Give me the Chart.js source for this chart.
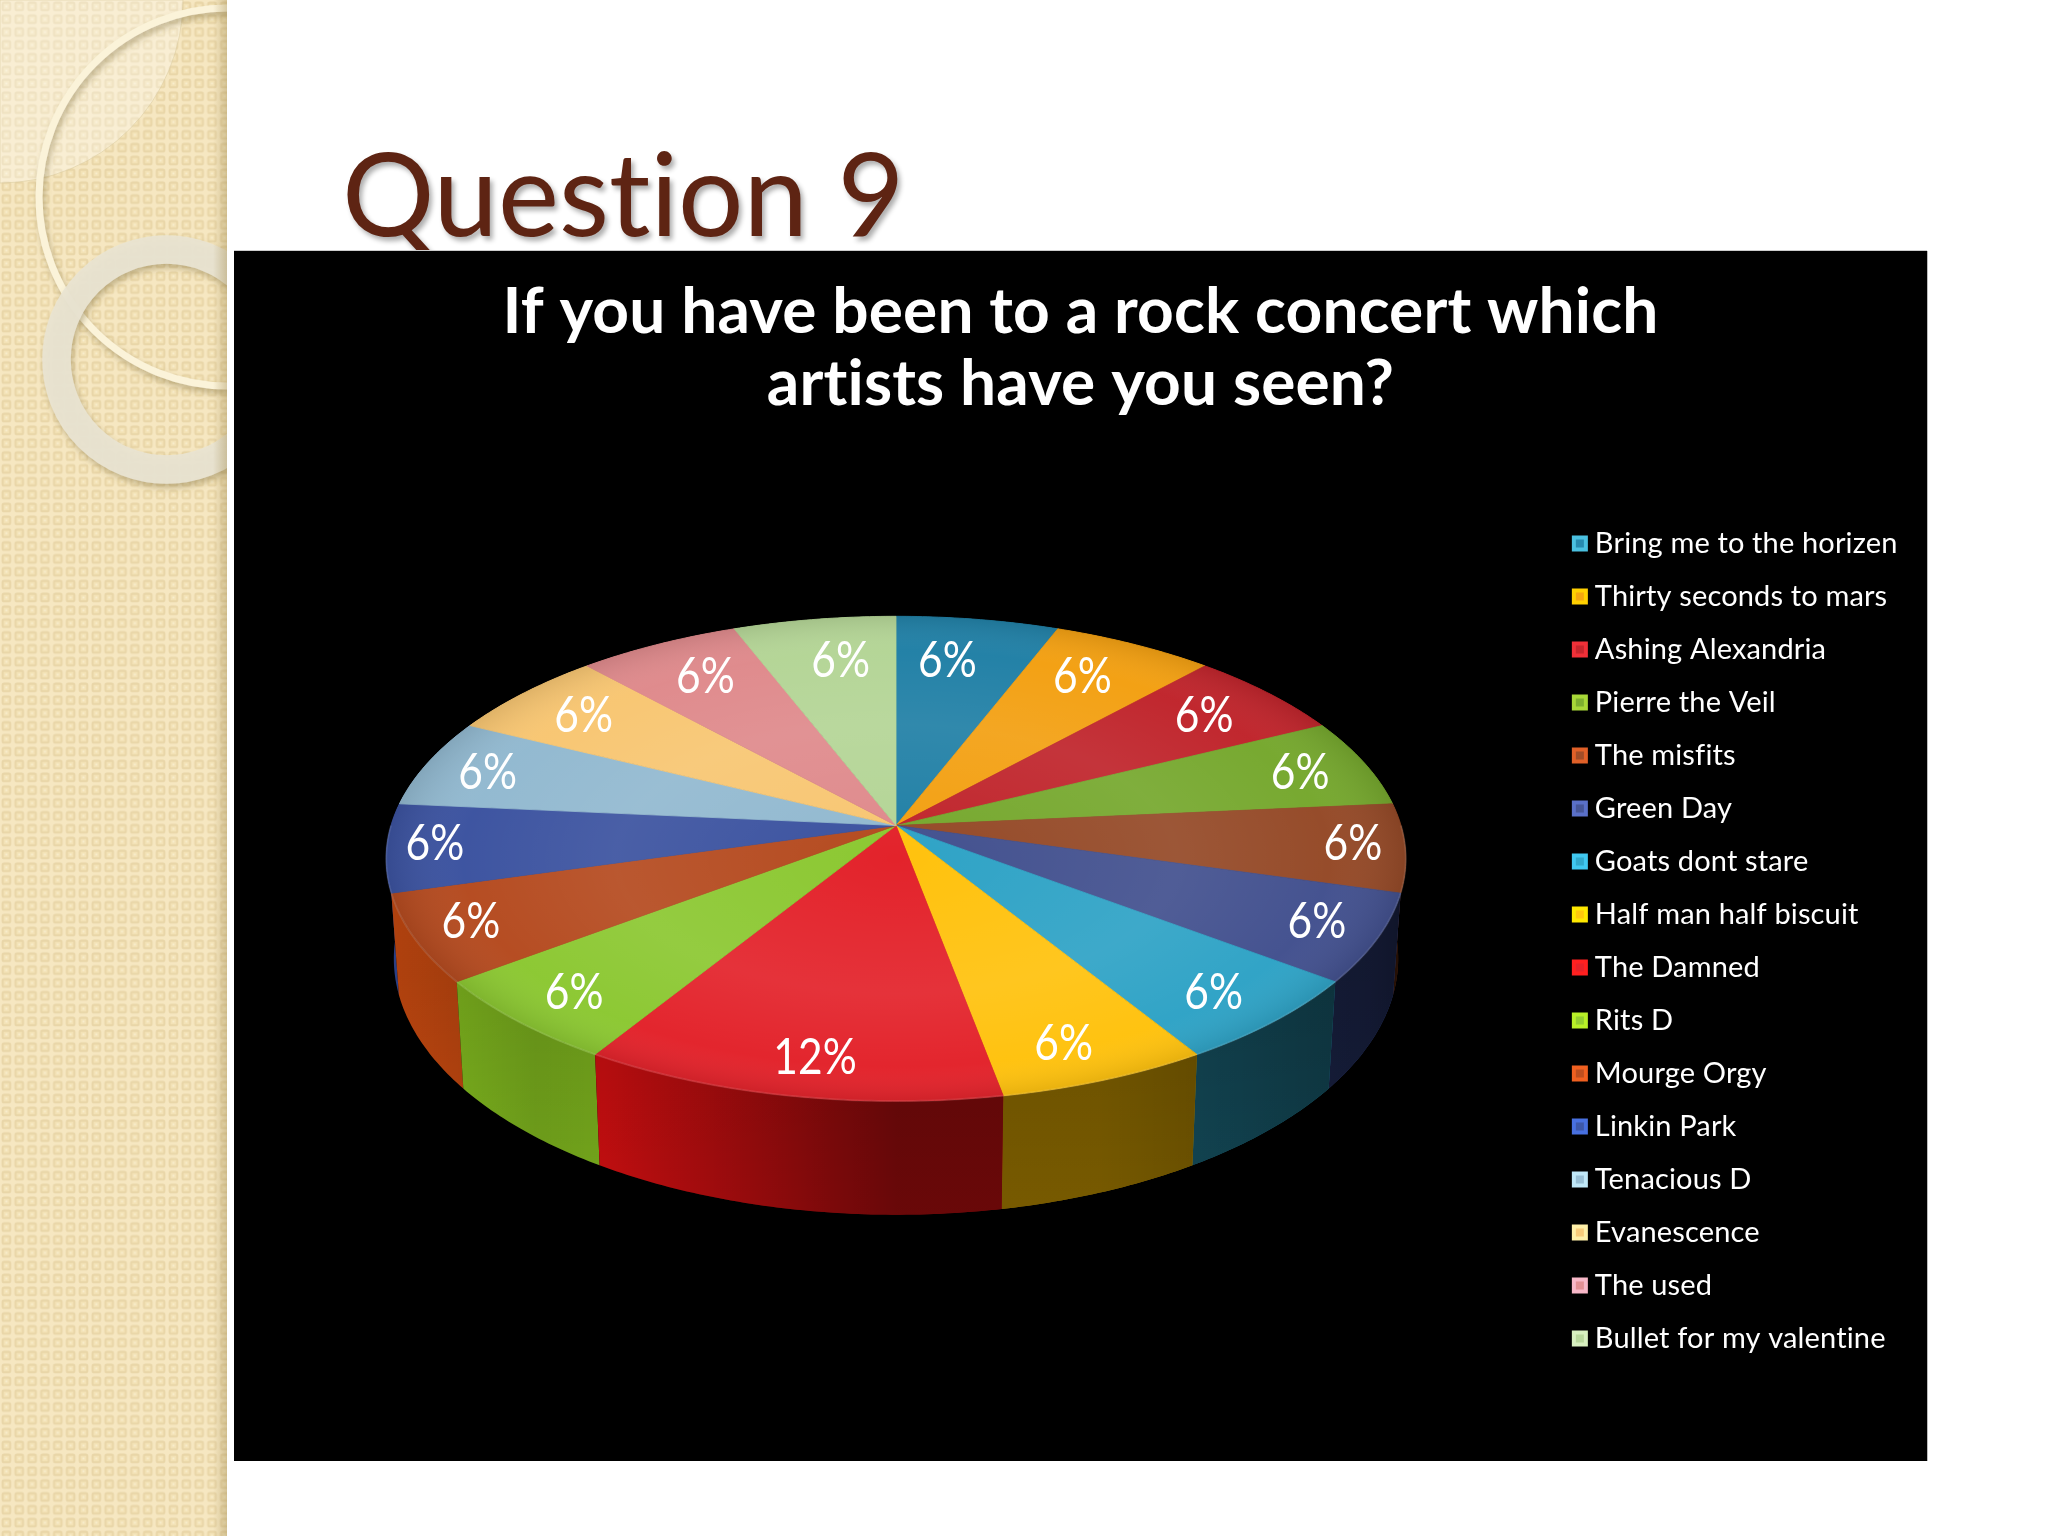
<!DOCTYPE html>
<html><head><meta charset="utf-8">
<style>
html,body{margin:0;padding:0;width:2048px;height:1536px;background:#fff;overflow:hidden}
#deco{position:absolute;left:0;top:0}
#heading{position:absolute;left:342px;top:117px;margin:0;font:400 115.5px/150px Lato,sans-serif;font-variant-ligatures:none;color:#5E2413;text-shadow:3px 4px 5px rgba(0,0,0,.32);white-space:nowrap}
#panel{position:absolute;left:234px;top:251px;width:1693px;height:1210px;background:#000;box-shadow:1px 0 0 #bbb,0 -1px 0 #ccc}
canvas{display:block}
</style></head><body>
<svg id="deco" width="227" height="1536" xmlns="http://www.w3.org/2000/svg">
<defs>
<pattern id="weave" width="12.85" height="12.85" patternUnits="userSpaceOnUse">
<rect width="12.85" height="12.85" fill="#F6E7C1"/>
<rect x="2.6" y="2.6" width="7.6" height="7.6" rx="1.6" fill="#F3E2B6" stroke="#E9D6A8" stroke-width="2"/>
<rect x="5.4" y="5.4" width="2" height="2" fill="#F8EDCD"/>
</pattern>
<linearGradient id="edge" x1="0" x2="1" y1="0" y2="0"><stop offset="0" stop-color="#a08a50" stop-opacity="0"/><stop offset="1" stop-color="#a08a50" stop-opacity=".4"/></linearGradient>
<filter id="soft" x="-20%" y="-20%" width="140%" height="140%"><feDropShadow dx="2" dy="4" stdDeviation="3" flood-color="#7a6a3a" flood-opacity=".45"/></filter>
</defs>
<rect width="227" height="1536" fill="url(#weave)"/>
<path d="M0 0H183A183 183 0 0 1 0 183Z" fill="#fff" fill-opacity=".3" stroke="#d8c89a" stroke-opacity=".5"/>
<circle cx="228" cy="197" r="189" fill="none" stroke="#FBF3D9" stroke-width="7" filter="url(#soft)"/>
<circle cx="166.5" cy="359.5" r="110" fill="none" stroke="#E9E4D2" stroke-opacity=".93" stroke-width="28.5" filter="url(#soft)"/>
<rect x="213" width="14" height="1536" fill="url(#edge)"/>
</svg>
<h1 id="heading">Question 9</h1>
<div id="panel"><canvas id="c" width="1693" height="1210"></canvas></div>
<script src="https://cdn.jsdelivr.net/npm/chart.js@4"></script>
<script>
const titleLines = ["If you have been to a rock concert which", "artists have you seen?"];
const artists = ["Bring me to the horizen","Thirty seconds to mars","Ashing Alexandria","Pierre the Veil","The misfits","Green Day","Goats dont stare","Half man half biscuit","The Damned","Rits D","Mourge Orgy","Linkin Park","Tenacious D","Evanescence","The used","Bullet for my valentine"];
const responses = [1,1,1,1,1,1,1,1,2,1,1,1,1,1,1,1];
const sliceColours = ["#2180A6","#F3A012","#C0252C","#76A82E","#954A28","#43518F","#2FA3C6","#FFC20E","#E3232B","#8CC832","#B54B20","#3C53A0","#92B9D0","#F8C672","#DF8A8C","#B4D596"];
const wallColours = ["#1C7090","#E89000","#B01018","#6A9820","#8A3A10","#3C50A0","#2AA0C0","#FFC000","#E01012","#86C020","#C84A10","#304898","#80A8C0","#E8B060","#C87078","#A0C080"];
const swatchColours = ["#4AC0E0","#FFD000","#F03038","#A8D838","#E06028","#5A70C8","#40C8F0","#FFE800","#FF2020","#B8F028","#F06020","#4870E0","#C0E8F8","#FFF0A8","#F8B8C8","#D8F0C0"];

/* view of the disc: perspective projection of the library's arcs */
const VIEW = {apexX:662, apexY:574.5, squash:0.471, persp:0.137, depth:98, shrink:0.985};
function project(arc, theta, rho, lower){
  const u = Math.cos(theta)*rho, v = Math.sin(theta)*rho, R = arc.outerRadius;
  const w = 1 - VIEW.persp*v;
  const s = lower ? VIEW.shrink : 1;
  return {x: VIEW.apexX + s*R*u/w, y: VIEW.apexY + (R*VIEW.squash*v + (lower?VIEW.depth:0))/w};
}
function rim(ctx, arc, from, to, rho, lower, first){
  const n = Math.max(2, Math.ceil(Math.abs(to-from)/0.012));
  for(let i=0;i<=n;i++){
    const p = project(arc, from+(to-from)*i/n, rho, lower);
    if(i===0 && first) ctx.moveTo(p.x,p.y); else ctx.lineTo(p.x,p.y);
  }
}
const pie3d = {
  id:'pie3d',
  afterInit(chart){ chart.ctx.letterSpacing='0.15px'; },
  beforeDatasetDraw(chart, args){
    const ctx = chart.ctx, arcs = args.meta.data, cols = chart.data.datasets[0].backgroundColor;
    const R = arcs[0].outerRadius, cx = VIEW.apexX;
    ctx.save();
    /* side wall, back to front */
    const order = arcs.map((a,i)=>i).sort((p,q)=>
      Math.sin((arcs[p].startAngle+arcs[p].endAngle)/2)-Math.sin((arcs[q].startAngle+arcs[q].endAngle)/2));
    const shadeX = ctx.createLinearGradient(cx-R,0,cx+R,0);
    [[0,0],[.143,.16],[.21,.13],[.5,.53],[.7,.53],[.85,.6],[.97,.66],[1,.7]].forEach(s=>shadeX.addColorStop(s[0],`rgba(0,0,0,${s[1]})`));
    const shadeY = ctx.createLinearGradient(0,VIEW.apexY+150,0,VIEW.apexY+400);
    shadeY.addColorStop(0,'rgba(0,0,0,.12)'); shadeY.addColorStop(1,'rgba(0,0,0,0)');
    order.forEach(i=>{
      const a = arcs[i];
      ctx.beginPath();
      rim(ctx,a,a.startAngle,a.endAngle,1,false,true);
      rim(ctx,a,a.endAngle,a.startAngle,1,true,false);
      ctx.closePath();
      ctx.fillStyle = wallColours[i]; ctx.fill();
      ctx.fillStyle = shadeX; ctx.fill();
      ctx.fillStyle = shadeY; ctx.fill();
    });
    /* top face */
    arcs.forEach((a,i)=>{
      ctx.beginPath();
      const o = project(a,0,0,false);
      ctx.moveTo(o.x,o.y);
      rim(ctx,a,a.startAngle,a.endAngle,1,false,false);
      ctx.closePath();
      ctx.fillStyle = cols[i]; ctx.strokeStyle = cols[i]; ctx.lineWidth = .8;
      ctx.fill(); ctx.stroke();
    });
    /* soft sheen across the face */
    ctx.save();
    ctx.beginPath();
    rim(ctx,arcs[0],-Math.PI/2,Math.PI*1.5,1,false,true);
    ctx.closePath(); ctx.clip();
    const ecy = (project(arcs[0],-Math.PI/2,1,false).y+project(arcs[0],Math.PI/2,1,false).y)/2;
    const ery = (project(arcs[0],Math.PI/2,1,false).y-project(arcs[0],-Math.PI/2,1,false).y)/2;
    ctx.translate(cx,ecy); ctx.scale(1,ery/R);
    const g = ctx.createRadialGradient(0,0,0,0,0,R*1.01);
    g.addColorStop(0,'rgba(255,255,255,0)');
    g.addColorStop(.55,'rgba(255,255,255,.07)');
    g.addColorStop(.85,'rgba(255,255,255,.01)');
    g.addColorStop(1,'rgba(0,0,0,.1)');
    ctx.fillStyle = g; ctx.fillRect(-R*1.1,-R*1.1,R*2.2,R*2.2);
    ctx.restore();
    /* faint lip on the front rim */
    arcs.forEach(a=>{
      const lo = Math.max(a.startAngle,0), hi = Math.min(a.endAngle,Math.PI);
      if(hi<=lo) return;
      ctx.beginPath();
      rim(ctx,a,lo,hi,1,false,true);
      ctx.strokeStyle='rgba(255,255,255,.1)'; ctx.lineWidth=2; ctx.stroke();
    });
    ctx.restore();
    return false;
  },
  afterDatasetsDraw(chart){
    const ctx = chart.ctx, meta = chart.getDatasetMeta(0), vals = chart.data.datasets[0].data;
    const total = vals.reduce((s,v)=>s+v,0);
    ctx.save();
    ctx.fillStyle='#fff'; ctx.textAlign='center'; ctx.textBaseline='middle';
    ctx.font='400 50px Lato, sans-serif';
    meta.data.forEach((a,i)=>{
      const t=(a.startAngle+a.endAngle)/2, u=Math.cos(t), v=Math.sin(t), au=Math.abs(u);
      const p=project(a,t,1,false);
      let ix=Math.min(62,17+62*au);
      if(v>-0.1 && au>.85) ix-=(au-.85)*80;
      const x=p.x-2-Math.sign(u)*ix, y=p.y-(v<-.9?42:38)*v;
      ctx.save(); ctx.translate(x,y); ctx.scale(.85,1);
      ctx.fillText(Math.round(vals[i]/total*100)+'%',0,0);
      ctx.restore();
    });
    ctx.restore();
  },
  afterDraw(chart){
    const ctx = chart.ctx, boxes = chart.legend.legendHitBoxes, cols = chart.data.datasets[0].backgroundColor;
    ctx.save();
    boxes.forEach((b,i)=>{
      const x=b.left-7.5, y=b.top+b.height/2-8;
      ctx.fillStyle=swatchColours[i]; ctx.fillRect(x,y,16,16);
      ctx.fillStyle=cols[i]; ctx.globalAlpha=.85; ctx.fillRect(x+4,y+4,8,8); ctx.globalAlpha=1;
    });
    ctx.restore();
  }
};
new Chart(document.getElementById('c'),{
  type:'pie',
  data:{labels:artists,datasets:[{data:responses,backgroundColor:sliceColours,borderWidth:0}]},
  options:{
    responsive:false,animation:false,devicePixelRatio:1,radius:505,
    layout:{padding:{left:19.5,right:19.5,bottom:84}},
    plugins:{
      tooltip:{enabled:false},
      title:{display:true,text:titleLines,color:'#fff',font:{family:'Lato, sans-serif',size:64,weight:'bold',lineHeight:1.125},padding:{top:25,bottom:0}},
      legend:{position:'right',align:'end',labels:{color:'#fff',font:{family:'Lato, sans-serif',size:29},boxWidth:1,boxHeight:1,padding:24,
        generateLabels:ch=>ch.data.labels.map((t,i)=>({text:t,fillStyle:'transparent',strokeStyle:'transparent',lineWidth:0,index:i,fontColor:'#fff'}))}}
    }
  },
  plugins:[pie3d]
});
</script>
</body></html>
